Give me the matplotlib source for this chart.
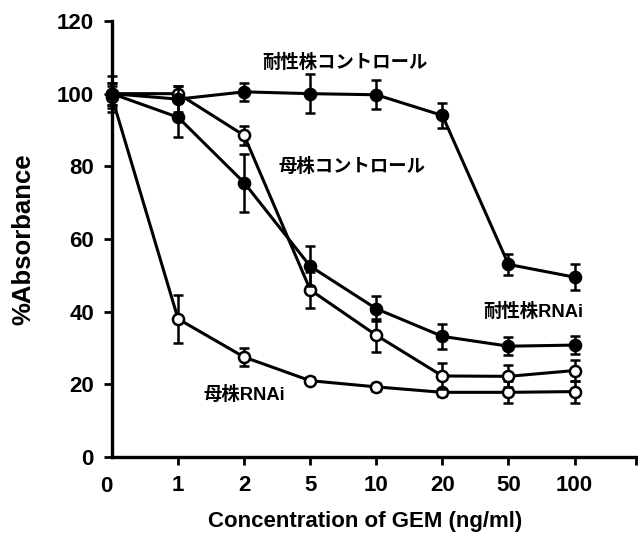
import matplotlib
matplotlib.use("Agg")
import matplotlib.pyplot as plt
import numpy as np

plt.rcParams['font.family'] = ['Liberation Sans', 'Noto Sans CJK JP', 'DejaVu Sans']

conc_labels = ["0", "1", "2", "5", "10", "20", "50", "100"]

res_ctrl = [100, 98.5, 100.5, 100, 99.7, 94, 53, 49.5]
res_ctrl_err = [5, 3.5, 2.5, 5.3, 4, 3.5, 3, 3.5]

par_ctrl = [100, 100, 88.5, 46, 33.5, 22.3, 22.2, 23.8]
par_ctrl_err = [3, 2, 2.5, 5, 4.5, 3.5, 3, 3]

res_rnai = [100, 93.5, 75.5, 52.5, 40.8, 33.2, 30.5, 30.8]
res_rnai_err = [3, 5.5, 8, 5.5, 3.5, 3.5, 2.5, 2.5]

par_rnai = [99, 38, 27.5, 21, 19.3, 17.8, 17.8, 18]
par_rnai_err = [3, 6.5, 2.5, 1, 1, 1, 3, 3]

W, H = 638, 540
fig = plt.figure(figsize=(W / 100, H / 100), dpi=100)
ax = fig.add_axes([112 / W, (H - 457) / H, (636 - 112) / W, (457 - 21) / H])

x = np.arange(len(conc_labels))

def draw(vals, errs, filled, z):
    ax.errorbar(x, vals, yerr=errs, color='black', lw=2.2, elinewidth=1.8,
                capsize=3.5, capthick=1.8, marker='o', ms=8,
                mfc='black' if filled else 'white', mec='black', mew=1.8,
                zorder=z, clip_on=False)

draw(par_rnai, par_rnai_err, False, 3)
draw(par_ctrl, par_ctrl_err, False, 4)
draw(res_rnai, res_rnai_err, True, 5)
draw(res_ctrl, res_ctrl_err, True, 6)

ax.set_xlim(0, 7.93)
ax.set_ylim(0, 120)
ax.set_yticks([0, 20, 40, 60, 80, 100, 120])
ax.set_xticks(list(x[1:]) + [7.93])
ax.set_xticklabels(conc_labels[1:] + [""])
ax.spines['top'].set_visible(False)
ax.spines['right'].set_visible(False)
for s in ['left', 'bottom']:
    ax.spines[s].set_linewidth(2.4)
ax.tick_params(axis='both', direction='out', length=6, width=2, labelsize=16, pad=3)
for lab in ax.get_xticklabels() + ax.get_yticklabels():
    lab.set_fontweight('bold')
ax.tick_params(axis='x', pad=7)
ax.tick_params(axis='y', pad=7)

# zero x label
fig.text(106 / W, (H - 486) / H, "0", ha='center', va='center', fontsize=16, fontweight='bold')

fig.text(23 / W, (H - 239) / H, "%Absorbance", rotation=90, ha='center', va='center',
         fontsize=18.5, fontweight='bold')
fig.text(365 / W, (H - 522) / H, "Concentration of GEM (ng/ml)", ha='center', va='center',
         fontsize=16, fontweight='bold')

fam = ['Liberation Sans', 'Noto Sans CJK JP']
def lbl(px, py, s):
    fig.text(px / W, (H - py) / H, s, ha='left', va='center', fontsize=13.2,
             fontweight='bold', family=fam)

lbl(262, 63, "耐性株コントロール")
lbl(278, 167, "母株コントロール")
lbl(483, 312, "耐性株RNAi")
lbl(203, 395, "母株RNAi")

fig.savefig("out.png", dpi=100)
